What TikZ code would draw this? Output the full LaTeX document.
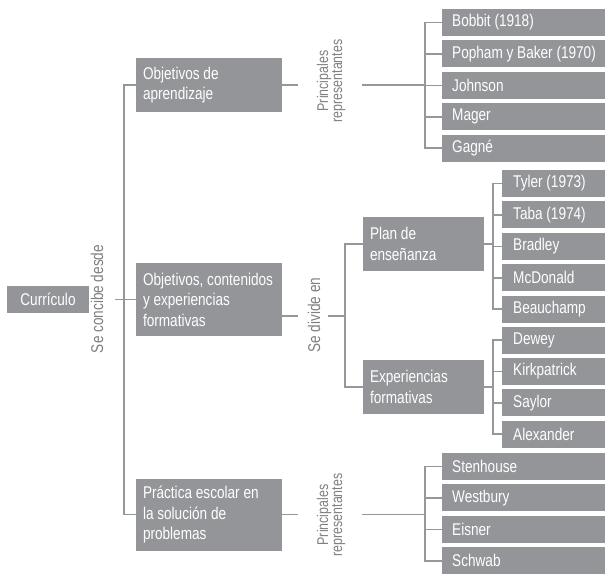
\documentclass[tikz,border=0pt]{standalone}
\usepackage{fontspec}
\setmainfont{Liberation Sans}[FakeStretch=0.8]
\usepackage{tikz}
\usetikzlibrary{positioning, calc}

\definecolor{boxgray}{RGB}{148,149,153}
\definecolor{linegray}{RGB}{150,151,155}
\definecolor{labelgray}{RGB}{125,127,130}

\begin{document}
\begin{tikzpicture}[x=1pt, y=-1pt,
        conbox/.style={
            rectangle, fill=boxgray, text=white,
            inner xsep=7pt, inner ysep=3pt,
            text width=132pt, align=flush left,
            font=\fontsize{17}{20.5}\selectfont
        },
        repbox/.style={
            rectangle, fill=boxgray, text=white,
            minimum height=27pt, inner ysep=2pt, align=flush left,
            font=\fontsize{17}{20.5}\selectfont
        },
        wide/.style={repbox, inner xsep=10pt, text width=160pt},
        narrow/.style={repbox, inner xsep=11pt, text width=90pt},
        rotlabel/.style={
            rotate=90, text=labelgray, align=center, inner sep=1pt,
            font=\fontsize{17}{20}\selectfont
        },
        replabel/.style={rotlabel, font=\fontsize{15.5}{14}\selectfont},
        link/.style={draw=linegray, line width=1.6pt}
    ]
        \useasboundingbox (0,0) rectangle (605,573);

        % root
        \node[repbox, align=center, text width=, inner xsep=4pt, minimum width=82pt] (curr) at (48,299.5) {Currículo};
        \node[rotlabel] (concibe) at (97,299) {Se concibe desde};
        \coordinate (c0) at (115,299.5);

        % three views
        \node[conbox, minimum height=54pt] (obj1) at (209,85) {Objetivos de\\aprendizaje};
        \node[conbox, minimum height=73pt] (obj2) at (209,299.5) {Objetivos, contenidos\\y experiencias\\formativas};
        \node[conbox, minimum height=72pt] (obj3) at (209,514.5) {Práctica escolar en\\la solución de\\problemas};

        \draw[link] (obj1.west) -- ++(-12,0) |- (obj3.west);
        \draw[link] (c0) -- (obj2.west);

        % objetivos de aprendizaje
        \node[replabel] (pr1) at (331,81) {Principales\\representantes};
        \coordinate (b1) at (425,85);
        \node[wide, anchor=west] (bobbit) at (442,22.5) {Bobbit (1918)};
        \node[wide, below=4pt of bobbit] (popham) {Popham y Baker (1970)};
        \node[wide, below=4pt of popham] (johnson) {Johnson};
        \node[wide, below=4pt of johnson] (mager) {Mager};
        \node[wide, below=4pt of mager] (gagne) {Gagné};

        \draw[link] (obj1.east) -- ++(16,0);
        \draw[link] (b1) -- ++(-63,0);
        \draw[link] (bobbit.west) -- ++(-17,0) |- (gagne.west);
        \foreach \n in {popham, johnson, mager}
            \draw[link] (\n.west) -- ++(-17,0);

        % objetivos, contenidos y experiencias
        \node[rotlabel] (divide) at (314,315) {Se divide en};
        \coordinate (d0) at (345,316);
        \node[conbox, text width=107pt, minimum height=54pt] (plan) at (423.5,244) {Plan de\\enseñanza};
        \node[conbox, text width=107pt, minimum height=54pt] (exper) at (423.5,387) {Experiencias\\formativas};

        \draw[link] (obj2.east |- d0) -- ++(16,0);
        \draw[link] (d0) -- ++(-17,0);
        \draw[link] (plan.west) -- ++(-18,0) |- (exper.west);

        \node[narrow, anchor=west] (tyler) at (502,183.5) {Tyler (1973)};
        \node[narrow, below=4pt of tyler] (taba) {Taba (1974)};
        \node[narrow, below=4pt of taba] (bradley) {Bradley};
        \node[narrow, below=4pt of bradley] (mcdonald) {McDonald};
        \node[narrow, below=4pt of mcdonald] (beauchamp) {Beauchamp};

        \draw[link] (plan.east) -- ++(9,0);
        \draw[link] (tyler.west) -- ++(-9,0) |- (beauchamp.west);
        \foreach \n in {taba, bradley, mcdonald}
            \draw[link] (\n.west) -- ++(-9,0);

        \node[narrow, anchor=west] (dewey) at (502,340) {Dewey};
        \node[narrow, below=4pt of dewey] (kirk) {Kirkpatrick};
        \node[narrow, below=4pt of kirk] (saylor) {Saylor};
        \node[narrow, below=4pt of saylor] (alex) {Alexander};

        \draw[link] (exper.east) -- ++(9,0);
        \draw[link] (dewey.west) -- ++(-9,0) |- (alex.west);
        \foreach \n in {kirk, saylor}
            \draw[link] (\n.west) -- ++(-9,0);

        % practica escolar
        \node[replabel] (pr2) at (331,515) {Principales\\representantes};
        \coordinate (b3) at (425,514.5);
        \node[wide, anchor=west] (stenh) at (442,466.5) {Stenhouse};
        \node[wide, below=4pt of stenh] (westb) {Westbury};
        \node[wide, below=4pt of westb] (eisner) {Eisner};
        \node[wide, below=4pt of eisner] (schwab) {Schwab};

        \draw[link] (obj3.east) -- ++(16,0);
        \draw[link] (b3) -- ++(-63,0);
        \draw[link] (stenh.west) -- ++(-17,0) |- (schwab.west);
        \foreach \n in {westb, eisner}
            \draw[link] (\n.west) -- ++(-17,0);
    \end{tikzpicture}
\end{document}
